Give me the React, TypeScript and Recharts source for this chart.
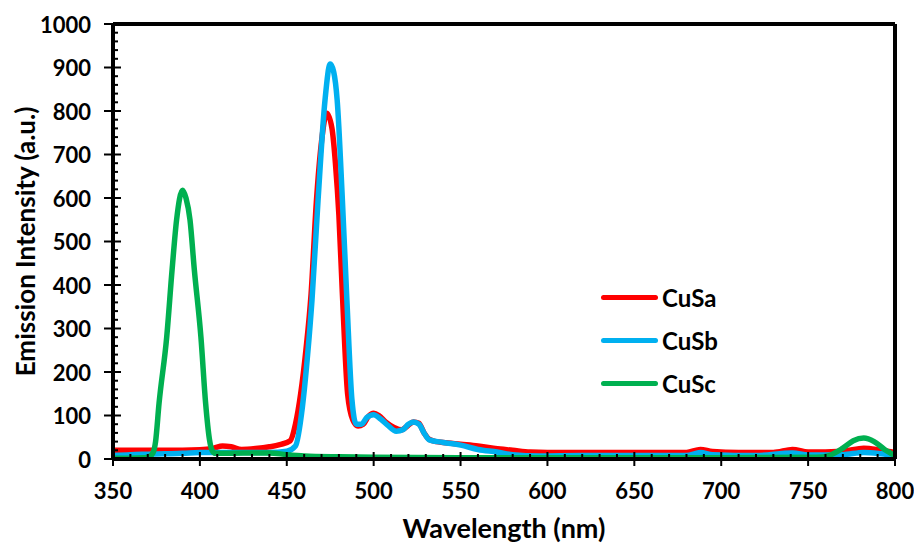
import React from "react";
import { LineChart, Line, XAxis, YAxis, ReferenceLine, Legend, Label } from "recharts";

// Emission spectra (wavelength in nm, intensity in a.u.)
const cusaWavelength = [350, 360, 370, 380, 390, 400, 408, 413, 418, 424, 432, 440, 446, 452, 455, 458, 461, 464, 467, 470, 473, 476, 478, 480, 482, 485, 488, 491, 494, 497, 500, 503, 507, 512, 516, 520, 523, 526, 529, 532, 536, 540, 550, 560, 570, 580, 590, 600, 620, 650, 680, 688, 695, 710, 730, 741, 750, 770, 782, 792, 800];
const cusaIntensity = [20, 20, 20, 20, 20, 21, 25, 30, 28, 22, 24, 28, 33, 42, 80, 150, 250, 380, 590, 730, 795, 760, 680, 560, 380, 150, 90, 76, 80, 98, 105, 100, 85, 72, 67, 78, 85, 82, 60, 45, 40, 38, 34, 30, 24, 20, 16, 15, 15, 15, 15, 22, 17, 15, 15, 22, 16, 18, 25, 20, 15];

const cusbWavelength = [350, 360, 370, 380, 390, 400, 420, 440, 450, 455, 459, 462, 464.5, 468, 472, 475, 477, 479, 482, 484.6, 487.5, 490, 493, 496, 500, 504, 508, 513, 517, 520, 523, 526, 529, 532, 540, 550, 560, 571, 580, 595, 620, 650, 680, 688, 695, 720, 741, 750, 770, 782, 792, 800];
const cusbIntensity = [8, 10, 11, 12, 13, 15, 15, 15, 18, 30, 120, 240, 365, 595, 825, 908, 890, 825, 595, 365, 136, 80, 80, 95, 102, 92, 78, 64, 68, 80, 85, 80, 60, 44, 38, 32, 22, 16, 10, 7, 8, 8, 8, 15, 10, 8, 14, 9, 10, 15, 12, 8];

const cuscWavelength = [350, 360, 368, 371, 373, 374.5, 376.5, 380.9, 384, 386.6, 390, 392, 394.3, 396.8, 400.6, 403.3, 405.5, 407, 409, 412, 425, 440, 450, 460, 480, 500, 550, 600, 700, 755, 762, 770, 776, 782, 788, 794, 800];
const cuscIntensity = [2, 2, 3, 6, 14, 40, 128, 280, 435, 550, 618, 600, 550, 435, 280, 128, 45, 20, 13, 13, 14, 14, 10, 7, 5, 4, 3, 3, 3, 4, 8, 25, 42, 48, 40, 22, 8];

const seriesNames = ["CuSa", "CuSb", "CuSc"];
const seriesColors = ["#FF0000", "#00B0F0", "#00B050"];

const xTicks = Array.from({ length: 46 }, (_, i) => 350 + i * 10);
const yTicks = Array.from({ length: 51 }, (_, i) => i * 20);

const toPoints = (wl: number[], val: number[]) => wl.map((w, i) => ({ wl: w, v: val[i] }));

const seriesData = [
  toPoints(cusaWavelength, cusaIntensity),
  toPoints(cusbWavelength, cusbIntensity),
  toPoints(cuscWavelength, cuscIntensity),
];

const FONT = 'Lato, "Open Sans", sans-serif';

const XTick = (props: any) => {
  const { x, y, payload } = props;
  const v = payload.value;
  if (v % 50 === 0) {
    return (
      <g>
        <line x1={x} x2={x} y1={y - 7} y2={y + 7} stroke="#000" strokeWidth={2} />
        <text x={x} y={y + 31} textAnchor="middle" dominantBaseline="central" fontFamily={FONT} fontWeight={700} fontSize={22} fill="#000">
          {v}
        </text>
      </g>
    );
  }
  return <line x1={x} x2={x} y1={y} y2={y - 5} stroke="#000" strokeWidth={2} />;
};

const YTick = (props: any) => {
  const { x, y, payload } = props;
  const v = payload.value;
  if (v % 100 === 0) {
    return (
      <g>
        <line x1={x - 9} x2={x + 8} y1={y} y2={y} stroke="#000" strokeWidth={2} />
        <text x={x - 22} y={y} textAnchor="end" dominantBaseline="central" fontFamily={FONT} fontWeight={700} fontSize={22} fill="#000">
          {v}
        </text>
      </g>
    );
  }
  return <line x1={x} x2={x + 5} y1={y} y2={y} stroke="#000" strokeWidth={2} />;
};

const LegendBox = (props: any) => {
  const items = props.payload || [];
  return (
    <div style={{ fontFamily: FONT, fontWeight: 700, fontSize: 24, color: "#000" }}>
      {items.map((it: any) => (
        <div key={it.value} style={{ display: "flex", alignItems: "center", height: 43 }}>
          <div style={{ width: 57, height: 5, borderRadius: 3, background: it.color, marginRight: 4 }} />
          <span>{it.value}</span>
        </div>
      ))}
    </div>
  );
};

export default function App() {
  return (
    <div style={{ position: "absolute", left: 0, top: 0, background: "#fff" }}>
      <LineChart width={914} height={544} margin={{ top: 24, right: 19, bottom: 45, left: 13 }}>
        <XAxis
          type="number"
          dataKey="wl"
          domain={[350, 800]}
          ticks={xTicks}
          interval={0}
          tickSize={0}
          tickMargin={0}
          tickLine={false}
          tick={<XTick />}
          axisLine={{ stroke: "#000", strokeWidth: 4 }}
          height={40}
          allowDuplicatedCategory={false}
        >
          <Label
            content={({ viewBox }: any) => (
              <text x={viewBox.x + viewBox.width / 2} y={viewBox.y + 68} textAnchor="middle" dominantBaseline="central" fontFamily={FONT} fontWeight={700} fontSize={27} fill="#000">
                Wavelength (nm)
              </text>
            )}
          />
        </XAxis>
        <YAxis
          type="number"
          dataKey="v"
          domain={[0, 1000]}
          ticks={yTicks}
          interval={0}
          tickSize={0}
          tickMargin={0}
          tickLine={false}
          tick={<YTick />}
          axisLine={{ stroke: "#000", strokeWidth: 4 }}
          width={100}
        >
          <Label
            content={({ viewBox }: any) => {
              const cx = viewBox.x + 12;
              const cy = viewBox.y + viewBox.height / 2;
              return (
                <text x={cx} y={cy} transform={`rotate(-90 ${cx} ${cy})`} textAnchor="middle" dominantBaseline="central" fontFamily={FONT} fontWeight={700} fontSize={26} fill="#000">
                  Emission Intensity (a.u.)
                </text>
              );
            }}
          />
        </YAxis>
        {seriesData.map((d, i) => (
          <Line
            key={seriesNames[i]}
            data={d}
            dataKey="v"
            name={seriesNames[i]}
            type="monotone"
            stroke={seriesColors[i]}
            strokeWidth={5.5}
            dot={false}
            activeDot={false}
            strokeLinejoin="round"
            isAnimationActive={false}
          />
        ))}
        <ReferenceLine y={1000} stroke="#000" strokeWidth={4} />
        <ReferenceLine x={800} stroke="#000" strokeWidth={4} />
        <Legend
          layout="vertical"
          align="center"
          verticalAlign="middle"
          content={<LegendBox />}
          wrapperStyle={{ left: 601, top: 276, width: 130 }}
        />
      </LineChart>
    </div>
  );
}
